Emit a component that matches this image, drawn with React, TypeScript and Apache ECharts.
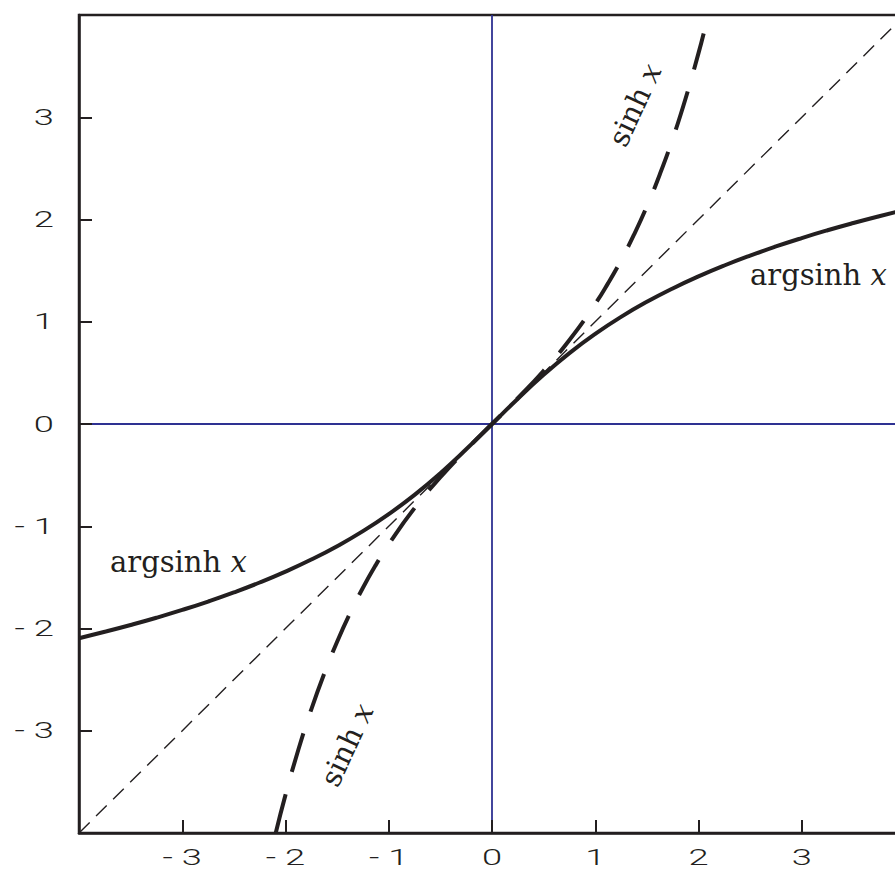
import React, { useEffect, useRef } from "react";
import * as echarts from "echarts";

const tickValues = [-3, -2, -1, 0, 1, 2, 3];
const tickLabels = ["- 3", "- 2", "- 1", "0", "1", "2", "3"];
const axisMin = -4;
const axisMax = 4;

const identityX = [-4, 4];
const identityY = [-4, 4];

const asinhX = [-4, -3.75, -3.5, -3.25, -3, -2.75, -2.5, -2.25, -2, -1.75, -1.5, -1.25, -1, -0.75, -0.5, -0.25, 0,
  0.25, 0.5, 0.75, 1, 1.25, 1.5, 1.75, 2, 2.25, 2.5, 2.75, 3, 3.25, 3.5, 3.75, 4];
const asinhY = [-2.0947, -2.0322, -1.9657, -1.8947, -1.8184, -1.7363, -1.6472, -1.5502, -1.4436, -1.3259, -1.1948,
  -1.0476, -0.8814, -0.6931, -0.4812, -0.2475, 0, 0.2475, 0.4812, 0.6931, 0.8814, 1.0476, 1.1948, 1.3259, 1.4436,
  1.5502, 1.6472, 1.7363, 1.8184, 1.8947, 1.9657, 2.0322, 2.0947];

const sinhX = [-2.0947, -2, -1.875, -1.75, -1.625, -1.5, -1.375, -1.25, -1.125, -1, -0.75, -0.5, -0.25, 0,
  0.25, 0.5, 0.75, 1, 1.125, 1.25, 1.375, 1.5, 1.625, 1.75, 1.875, 2, 2.05];
const sinhY = [-4, -3.6269, -3.1837, -2.7904, -2.4408, -2.1293, -1.8511, -1.6019, -1.3778, -1.1752, -0.8223,
  -0.5211, -0.2526, 0, 0.2526, 0.5211, 0.8223, 1.1752, 1.3778, 1.6019, 1.8511, 2.1293, 2.4408, 2.7904, 3.1837,
  3.6269, 3.8196];

const zip = (xs: number[], ys: number[]) => xs.map((x, i) => [x, ys[i]]);

export default function App() {
  const ref = useRef<HTMLDivElement>(null);
  useEffect(() => {
    const chart = echarts.init(ref.current!, null, { renderer: "svg" });
    const ink = "#231f20";
    const blue = "#2e3192";
    const axisCommon = {
      type: "value",
      min: axisMin,
      max: axisMax,
      interval: 1,
      z: 5,
      axisLine: { show: true, onZero: false, lineStyle: { color: ink, width: 2.5 } },
      axisTick: { show: true, inside: true, length: 13, lineStyle: { color: ink, width: 2 } },
      axisLabel: { show: false },
      splitLine: { show: false },
    };
    chart.setOption({
      animation: false,
      grid: {
        left: 79, top: 15, right: 15, bottom: 37,
        show: true, borderColor: ink, borderWidth: 2.5, backgroundColor: "transparent",
      },
      xAxis: { ...axisCommon },
      yAxis: { ...axisCommon },
      series: [
        {
          type: "line", symbol: "none", z: 1,
          data: [[0, axisMin], [0, axisMax]],
          lineStyle: { color: blue, width: 1.8 },
        },
        {
          type: "line", symbol: "none", z: 1,
          data: [[axisMin, 0], [axisMax, 0]],
          lineStyle: { color: blue, width: 1.8 },
        },
        {
          type: "line", symbol: "none", z: 2,
          data: zip(identityX, identityY),
          lineStyle: { color: ink, width: 1.4, type: [15, 9] },
        },
        {
          type: "line", symbol: "none", z: 3, smooth: true,
          data: zip(asinhX, asinhY),
          lineStyle: { color: ink, width: 4 },
        },
        {
          type: "line", symbol: "none", z: 3, smooth: true,
          data: zip(sinhX, sinhY),
          lineStyle: { color: ink, width: 4, type: [40, 23.2] },
        },
      ],
    });

    const tickFont = { fontFamily: "Roboto", fontSize: 22, lineHeight: 20, fontWeight: 300, fill: ink };
    const graphics: any[] = [];
    tickValues.forEach((v, i) => {
      const px = chart.convertToPixel({ gridIndex: 0 }, [v, axisMin]) as number[];
      graphics.push({
        type: "text", x: px[0], y: 857, scaleX: 1.65,
        style: { text: tickLabels[i], align: "center", verticalAlign: "middle", ...tickFont },
      });
      const py = chart.convertToPixel({ gridIndex: 0 }, [axisMin, v]) as number[];
      graphics.push({
        type: "text", x: 54, y: py[1], scaleX: 1.65,
        style: { text: tickLabels[i], align: "right", verticalAlign: "middle", ...tickFont },
      });
    });

    const rich = {
      a: { fontFamily: "DejaVu Serif", fontSize: 29, fill: ink },
      i: { fontFamily: "DejaVu Serif", fontSize: 29, fontStyle: "italic", fill: ink },
    };
    const label = (x: number, y: number, name: string, rot: number, align: string) => ({
      type: "text", x, y, rotation: (rot * Math.PI) / 180,
      style: { text: `{a|${name}\u00a0}{i|x}`, rich, align, verticalAlign: "middle" },
    });
    graphics.push(label(750, 275, "argsinh", 0, "left"));
    graphics.push(label(110, 562, "argsinh", 0, "left"));
    graphics.push(label(635, 105, "sinh", 65, "center"));
    graphics.push(label(347, 745, "sinh", 65, "center"));

    chart.setOption({ graphic: graphics });
    return () => chart.dispose();
  }, []);
  return (
    <div style={{ position: "absolute", left: 0, top: 0, width: 895, height: 870, overflow: "hidden" }}>
      <div ref={ref} style={{ width: 920, height: 870 }} />
    </div>
  );
}
